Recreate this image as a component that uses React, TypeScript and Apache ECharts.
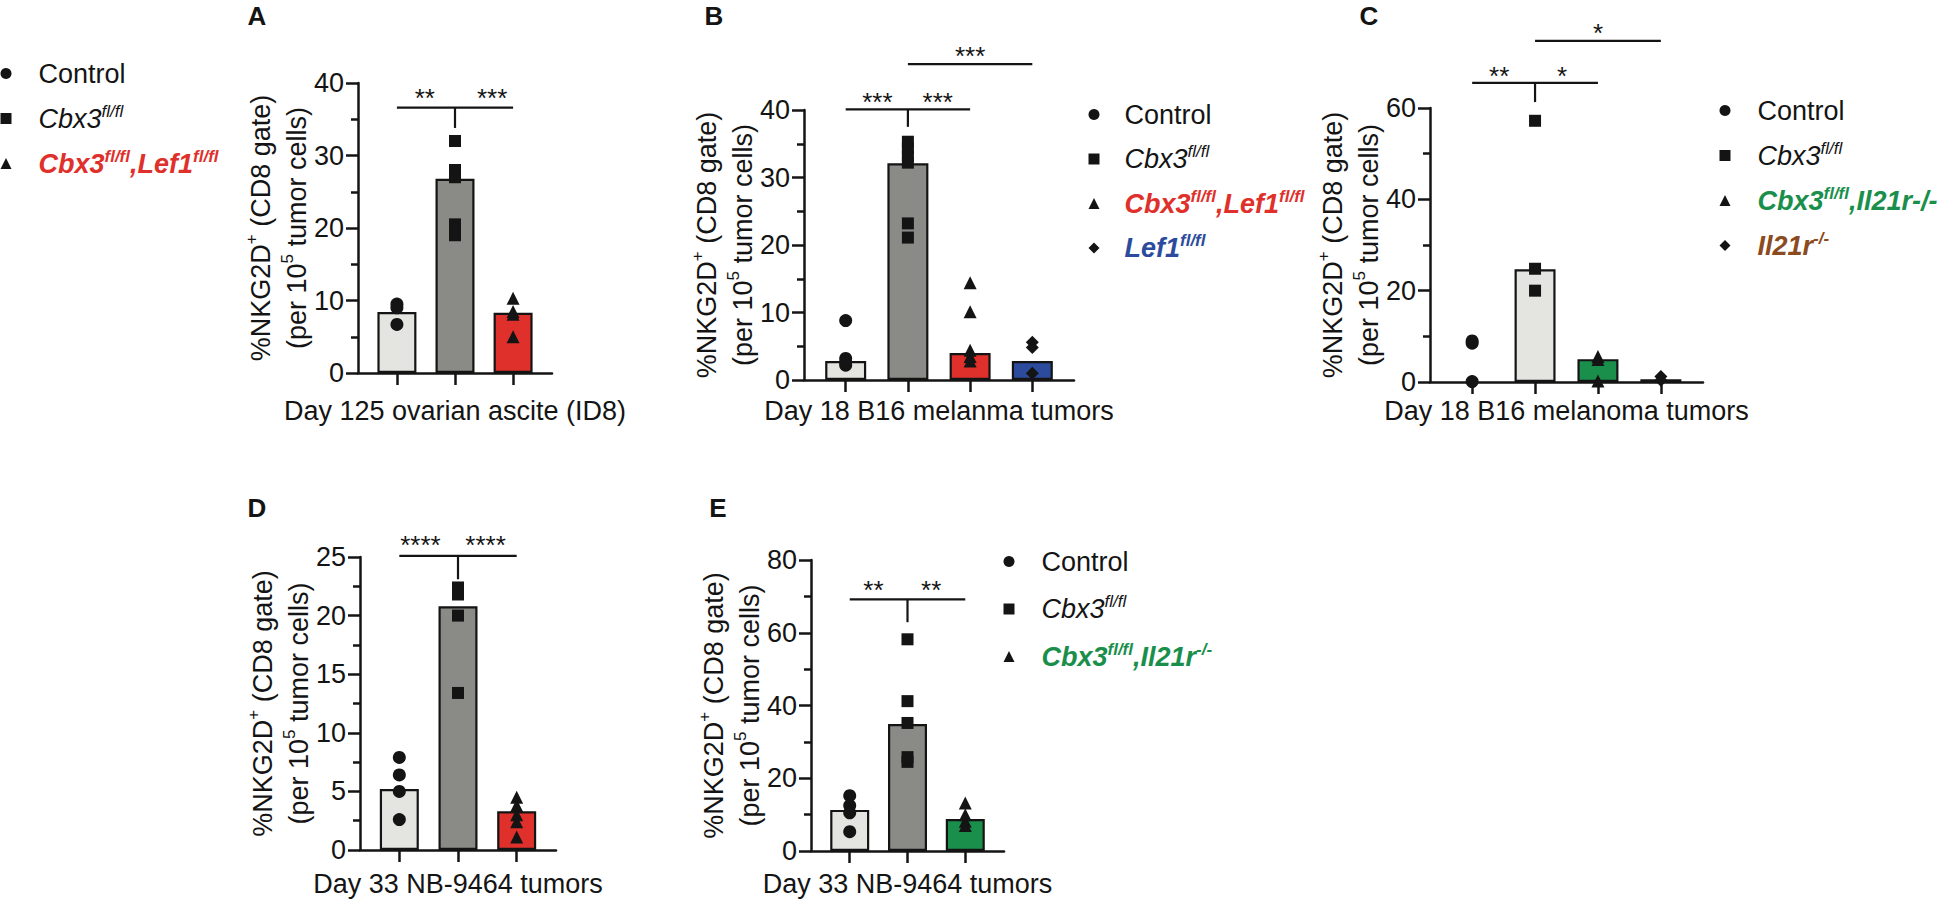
import React, { useEffect, useRef } from "react";
import * as echarts from "echarts";

const FONT = '"Liberation Sans", Arial, Helvetica, sans-serif';
const INK = "#141414";
const LIGHT = "#e4e5e0";
const DARK = "#8a8b86";
const RED = "#e0302b";
const BLUE = "#2c4b9c";
const GREEN = "#1a8f4c";
const BROWN = "#8b4a20";

// ---------- Panel A : Day 125 ovarian ascite (ID8) ----------
const barsA = [8.4, 26.8, 8.3];
const ctrlA = [9.5, 9.0, 6.7];
const cbxA = [32.0, 28.0, 27.0, 20.5, 19.0];
const cbxLefA = [10.3, 8.5, 8.1, 5.0];
const segsA = [[0, 36.6, 2, 36.6], [1, 36.6, 1, 33.8]];
const starsA = [{ x: 0.48, y: 38.8, t: "**" }, { x: 1.64, y: 38.8, t: "***" }];

// ---------- Panel B : Day 18 B16 melanma tumors ----------
const barsB = [2.8, 32.1, 4.0, 2.8];
const ctrlB = [8.8, 3.2, 2.6, 2.2];
const cbxB = [35.3, 34.3, 33.2, 32.2, 23.2, 21.1];
const cbxLefB = [14.4, 10.1, 4.4, 3.5, 2.8];
const lefB = [5.6, 4.8, 1.0];
const segsB = [[0, 40.1, 2, 40.1], [1, 40.1, 1, 37.5], [1, 46.8, 3, 46.8]];
const starsB = [
  { x: 0.51, y: 42.1, t: "***" },
  { x: 1.48, y: 42.1, t: "***" },
  { x: 2.0, y: 48.9, t: "***" },
];

// ---------- Panel C : Day 18 B16 melanoma tumors ----------
const barsC: (number | null)[] = [null, 24.7, 5.0, 0.6];
const ctrlC = [9.0, 8.5, 0.1];
const cbxC = [57.2, 24.8, 20.0];
const cbxIlC = [5.6, 4.9, 0.2];
const ilC = [1.2, 0.4];
const segsC = [[0, 65.5, 2, 65.5], [1, 65.5, 1, 61.3], [1, 74.7, 3, 74.7]];
const starsC = [
  { x: 0.43, y: 68.3, t: "**" },
  { x: 1.43, y: 68.3, t: "*" },
  { x: 2.0, y: 77.7, t: "*" },
];

// ---------- Panel D : Day 33 NB-9464 tumors ----------
const barsD = [5.2, 20.8, 3.3];
const ctrlD = [7.9, 6.4, 5.0, 2.6];
const cbxD = [22.4, 21.8, 20.0, 13.4];
const cbxLefD = [4.5, 3.8, 3.0, 2.4, 1.1];
const segsD = [[0, 25.1, 2, 25.1], [1, 25.1, 1, 23.1]];
const starsD = [{ x: 0.36, y: 26.5, t: "****" }, { x: 1.47, y: 26.5, t: "****" }];

// ---------- Panel E : Day 33 NB-9464 tumors ----------
const barsE = [11.3, 34.9, 8.8];
const ctrlE = [15.2, 12.5, 10.5, 5.3];
const cbxE = [58.2, 41.2, 35.2, 25.8, 24.5];
const cbxIlE = [13.2, 10.0, 8.2, 7.0];
const segsE = [[0, 69.2, 2, 69.2], [1, 69.2, 1, 62.9]];
const starsE = [{ x: 0.41, y: 73.4, t: "**" }, { x: 1.41, y: 73.4, t: "**" }];

type Group = { name: string; symbol: string; size: number; cat: number; values: number[] };
type Star = { x: number; y: number; t: string };
type Panel = {
  grid: { left: number; top: number; width: number; height: number };
  yMax: number;
  yStep: number;
  nCats: number;
  bars: (number | null)[];
  barColors: string[];
  barWidth: number;
  groups: Group[];
  segs: number[][];
  stars: Star[];
  xTitle: string;
  xGap: number;
};

const panels: Panel[] = [
  {
    grid: { left: 358, top: 83, width: 194, height: 290 },
    yMax: 40, yStep: 10, nCats: 3,
    bars: barsA, barColors: [LIGHT, DARK, RED], barWidth: 39,
    groups: [
      { name: "Control", symbol: "circle", size: 13, cat: 0, values: ctrlA },
      { name: "Cbx3", symbol: "rect", size: 12, cat: 1, values: cbxA },
      { name: "CbxLef", symbol: "triangle", size: 13, cat: 2, values: cbxLefA },
    ],
    segs: segsA, stars: starsA,
    xTitle: "Day 125 ovarian ascite (ID8)", xGap: 24,
  },
  {
    grid: { left: 804, top: 110, width: 270, height: 270 },
    yMax: 40, yStep: 10, nCats: 4,
    bars: barsB, barColors: [LIGHT, DARK, RED, BLUE], barWidth: 41,
    groups: [
      { name: "Control", symbol: "circle", size: 13, cat: 0, values: ctrlB },
      { name: "Cbx3", symbol: "rect", size: 12, cat: 1, values: cbxB },
      { name: "CbxLef", symbol: "triangle", size: 13, cat: 2, values: cbxLefB },
      { name: "Lef1", symbol: "diamond", size: 13, cat: 3, values: lefB },
    ],
    segs: segsB, stars: starsB,
    xTitle: "Day 18 B16 melanma tumors", xGap: 17,
  },
  {
    grid: { left: 1430, top: 108, width: 273, height: 274 },
    yMax: 60, yStep: 20, nCats: 4,
    bars: barsC, barColors: [LIGHT, LIGHT, GREEN, BROWN], barWidth: 41,
    groups: [
      { name: "Control", symbol: "circle", size: 13, cat: 0, values: ctrlC },
      { name: "Cbx3", symbol: "rect", size: 12, cat: 1, values: cbxC },
      { name: "CbxIl", symbol: "triangle", size: 13, cat: 2, values: cbxIlC },
      { name: "Il21", symbol: "diamond", size: 13, cat: 3, values: ilC },
    ],
    segs: segsC, stars: starsC,
    xTitle: "Day 18 B16 melanoma tumors", xGap: 15,
  },
  {
    grid: { left: 360, top: 557, width: 196, height: 293 },
    yMax: 25, yStep: 5, nCats: 3,
    bars: barsD, barColors: [LIGHT, DARK, RED], barWidth: 39,
    groups: [
      { name: "Control", symbol: "circle", size: 13, cat: 0, values: ctrlD },
      { name: "Cbx3", symbol: "rect", size: 12, cat: 1, values: cbxD },
      { name: "CbxLef", symbol: "triangle", size: 13, cat: 2, values: cbxLefD },
    ],
    segs: segsD, stars: starsD,
    xTitle: "Day 33 NB-9464 tumors", xGap: 20,
  },
  {
    grid: { left: 811, top: 560, width: 193, height: 291 },
    yMax: 80, yStep: 20, nCats: 3,
    bars: barsE, barColors: [LIGHT, DARK, GREEN], barWidth: 39,
    groups: [
      { name: "Control", symbol: "circle", size: 13, cat: 0, values: ctrlE },
      { name: "Cbx3", symbol: "rect", size: 12, cat: 1, values: cbxE },
      { name: "CbxIl", symbol: "triangle", size: 13, cat: 2, values: cbxIlE },
    ],
    segs: segsE, stars: starsE,
    xTitle: "Day 33 NB-9464 tumors", xGap: 19,
  },
];

const letters = [
  { t: "A", x: 257, y: 16 },
  { t: "B", x: 714, y: 16 },
  { t: "C", x: 1369, y: 16 },
  { t: "D", x: 257, y: 508 },
  { t: "E", x: 718, y: 508 },
];

const base = (color: string, italic: boolean, bold: boolean) => ({
  fontSize: 27,
  lineHeight: 32,
  fontFamily: FONT,
  color,
  fontStyle: italic ? "italic" : "normal",
  fontWeight: bold ? "bold" : "normal",
});
const sup = (color: string, italic: boolean, bold: boolean) => ({
  fontSize: 17,
  lineHeight: 18,
  fontFamily: FONT,
  color,
  fontStyle: italic ? "italic" : "normal",
  fontWeight: bold ? "bold" : "normal",
  verticalAlign: "top",
});

const LEGEND_RICH = {
  sp: { width: 22, fontSize: 10 },
  sp2: { width: 20, fontSize: 10 },
  k: base(INK, false, false),
  ki: base(INK, true, false),
  kis: sup(INK, true, false),
  r: base(RED, true, true),
  rs: sup(RED, true, true),
  b: base(BLUE, true, true),
  bs: sup(BLUE, true, true),
  g: base(GREEN, true, true),
  gs: sup(GREEN, true, true),
  n: base(BROWN, true, true),
  ns: sup(BROWN, true, true),
};

const labelsCommon: Record<string, string> = {
  Control: "{k|Control}",
  Cbx3: "{ki|Cbx3}{kis|fl/fl}",
  CbxLef: "{r|Cbx3}{rs|fl/fl}{r|,Lef1}{rs|fl/fl}",
  Lef1: "{b|Lef1}{bs|fl/fl}",
  Il21: "{n|Il21r}{ns|-/-}",
};
const cbxIlC_label = "{g|Cbx3}{gs|fl/fl}{g|,Il21r-/-}";
const cbxIlE_label = "{g|Cbx3}{gs|fl/fl}{g|,Il21r}{gs|-/-}";

const mkLegend = (
  left: number,
  top: number,
  gap: number,
  names: string[],
  spacer: string,
  cbxIl: string
) => ({
  orient: "vertical",
  left,
  top,
  padding: 0,
  itemGap: gap,
  itemWidth: 11,
  itemHeight: 11,
  selectedMode: false,
  itemStyle: { opacity: 1, color: INK },
  data: names,
  formatter: (name: string) =>
    `{${spacer}| }` + (name === "CbxIl" ? cbxIl : labelsCommon[name]),
  textStyle: { rich: LEGEND_RICH, fontSize: 27, fontFamily: FONT, color: INK },
});

const Y_RICH = {
  t: { fontSize: 27, lineHeight: 36, fontFamily: FONT, color: INK },
  ts: { fontSize: 17, lineHeight: 18, fontFamily: FONT, color: INK, verticalAlign: "top" },
};
const Y_NAME = "{t|%NKG2D}{ts|+}{t| (CD8 gate)}\n{t|(per 10}{ts|5}{t| tumor cells)}";

function buildOption() {
  const grid: any[] = [];
  const xAxis: any[] = [];
  const yAxis: any[] = [];
  const series: any[] = [];
  const axisLine = { show: true, onZero: false, lineStyle: { color: INK, width: 2.5 } };
  panels.forEach((p, i) => {
    grid.push({ ...p.grid, containLabel: false });
    const cats = Array.from({ length: p.nCats }, (_, k) => k);
    xAxis.push({
      gridIndex: i,
      type: "value",
      min: -0.67,
      max: p.nCats - 1 + 0.67,
      axisLine,
      axisTick: {
        show: true,
        customValues: cats,
        length: 12,
        lineStyle: { color: INK, width: 2.5 },
      },
      axisLabel: { show: false },
      splitLine: { show: false },
      name: p.xTitle,
      nameLocation: "middle",
      nameGap: p.xGap,
      nameTextStyle: { fontSize: 27, fontFamily: FONT, color: INK },
    });
    yAxis.push({
      gridIndex: i,
      type: "value",
      min: 0,
      max: p.yMax,
      interval: p.yStep,
      axisLine,
      axisTick: { show: true, length: 12, lineStyle: { color: INK, width: 2.5 } },
      minorTick: { show: true, splitNumber: 2, length: 7, lineStyle: { color: INK, width: 2.5 } },
      axisLabel: { fontSize: 27, fontFamily: FONT, color: INK, margin: 14 },
      splitLine: { show: false },
      minorSplitLine: { show: false },
      name: Y_NAME,
      nameLocation: "middle",
      nameRotate: 90,
      nameGap: 42,
      nameTextStyle: { rich: Y_RICH, fontSize: 27, fontFamily: FONT, color: INK },
    });
    const barData: any[] = [];
    p.bars.forEach((v, k) => {
      if (v != null) barData.push({ value: [k, v], itemStyle: { color: p.barColors[k] } });
    });
    series.push({
      type: "bar",
      name: "bars" + i,
      xAxisIndex: i,
      yAxisIndex: i,
      barWidth: p.barWidth,
      data: barData,
      itemStyle: { borderColor: INK, borderWidth: 2.2, opacity: 1 },
      silent: true,
      z: 2,
    });
    p.groups.forEach((g) => {
      series.push({
        type: "scatter",
        name: g.name,
        xAxisIndex: i,
        yAxisIndex: i,
        symbol: g.symbol,
        symbolSize: g.size,
        itemStyle: { color: INK, opacity: 1 },
        data: g.values.map((v) => [g.cat, v]),
        clip: false,
        silent: true,
        z: 3,
      });
    });
    series.push({
      type: "custom",
      name: "brackets" + i,
      xAxisIndex: i,
      yAxisIndex: i,
      clip: false,
      silent: true,
      z: 4,
      encode: { x: [0, 2], y: [1, 3] },
      data: p.segs,
      renderItem: (_params: any, api: any) => {
        const a = api.coord([api.value(0), api.value(1)]);
        const b = api.coord([api.value(2), api.value(3)]);
        return {
          type: "line",
          shape: { x1: a[0], y1: a[1], x2: b[0], y2: b[1] },
          style: { stroke: INK, lineWidth: 2.2 },
        };
      },
    });
    const texts = p.stars.map((s) => s.t);
    series.push({
      type: "custom",
      name: "stars" + i,
      xAxisIndex: i,
      yAxisIndex: i,
      clip: false,
      silent: true,
      z: 4,
      encode: { x: 0, y: 1 },
      data: p.stars.map((s) => [s.x, s.y]),
      renderItem: (params: any, api: any) => {
        const c = api.coord([api.value(0), api.value(1)]);
        return {
          type: "text",
          x: c[0],
          y: c[1] + 6,
          style: {
            text: texts[params.dataIndex],
            fontSize: 26,
            fontFamily: FONT,
            fill: INK,
            align: "center",
            verticalAlign: "middle",
          },
        };
      },
    });
  });

  return {
    animation: false,
    backgroundColor: "#ffffff",
    grid,
    xAxis,
    yAxis,
    series,
    legend: [
      mkLegend(0.5, 60, 15.5, ["Control", "Cbx3", "CbxLef"], "sp", cbxIlC_label),
      mkLegend(1088.5, 101, 15, ["Control", "Cbx3", "CbxLef", "Lef1"], "sp2", cbxIlC_label),
      mkLegend(1719.5, 97, 15.5, ["Control", "Cbx3", "CbxIl", "Il21"], "sp", cbxIlC_label),
      mkLegend(1003.5, 548, 18, ["Control", "Cbx3", "CbxIl"], "sp", cbxIlE_label),
    ],
    graphic: letters.map((l) => ({
      type: "text",
      x: l.x,
      y: l.y,
      style: {
        text: l.t,
        fontSize: 26,
        fontWeight: "bold",
        fontFamily: FONT,
        fill: INK,
        align: "center",
        verticalAlign: "middle",
      },
    })),
  };
}

export default function App() {
  const ref = useRef<HTMLDivElement>(null);
  useEffect(() => {
    if (!ref.current) return;
    const chart = echarts.init(ref.current, null, { renderer: "svg" });
    chart.setOption(buildOption() as any);
    return () => chart.dispose();
  }, []);
  return (
    <div
      ref={ref}
      style={{ position: "fixed", left: 0, top: 0, width: 1938, height: 902, background: "#fff" }}
    />
  );
}
